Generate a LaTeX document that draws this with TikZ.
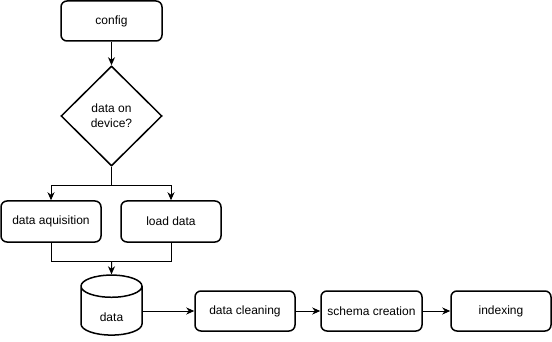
\documentclass[tikz,border=0pt]{standalone}
\usepackage{fontspec}
\setmainfont{Liberation Sans}
\usetikzlibrary{shapes.geometric,arrows.meta}
\begin{document}
\begin{tikzpicture}[x=1pt,y=-1pt,
  every node/.style={font=\fontsize{12}{15}\selectfont, align=center},
  procbox/.style={draw, line width=1.5pt, rounded corners=6pt, minimum width=100pt, minimum height=40pt, inner sep=0pt},
  decision/.style={draw, line width=1.5pt, diamond, minimum width=101pt, minimum height=100pt, inner sep=0pt},
  store/.style={draw, line width=1.5pt, cylinder, shape border rotate=90, aspect=0.95, minimum width=61pt, minimum height=60pt, inner sep=0pt},
  link/.style={line width=1pt, -{Stealth[length=8pt,width=7pt,inset=2.5pt]}},
  plain/.style={line width=1pt}]
\useasboundingbox (0,0) rectangle (552,342);

\node[procbox, minimum width=101pt] (config) at (111.5,21) {config};
\node[decision] (device) at (111.5,116) {data on\\device?};
\node[procbox, minimum height=41pt] (acq) at (51,221.5) {data aquisition};
\node[procbox, minimum height=41pt] (load) at (171,221.5) {load data};
\node[store] (data) at (111.5,311) {\raisebox{-10pt}[0pt][0pt]{data}};
\node[procbox] (clean) at (245,311) {data cleaning};
\node[procbox, minimum width=101pt] (schema) at (371.5,311) {schema creation};
\node[procbox] (index) at (501,311) {indexing};

\coordinate (split) at (111.5,186);
\coordinate (merge) at (111.5,261);

\draw[link] (config.south) -- (device.north);
\draw[plain] (device.south) -- (split);
\draw[link] (split) -| (acq.north);
\draw[link] (split) -| (load.north);
\draw[plain] (acq.south) |- (merge);
\draw[plain] (load.south) |- (merge);
\draw[link] (merge) -- (data.north);
\draw[link] (data.east) -- (clean.west);
\draw[link] (clean.east) -- (schema.west);
\draw[link] (schema.east) -- (index.west);
\end{tikzpicture}
\end{document}
